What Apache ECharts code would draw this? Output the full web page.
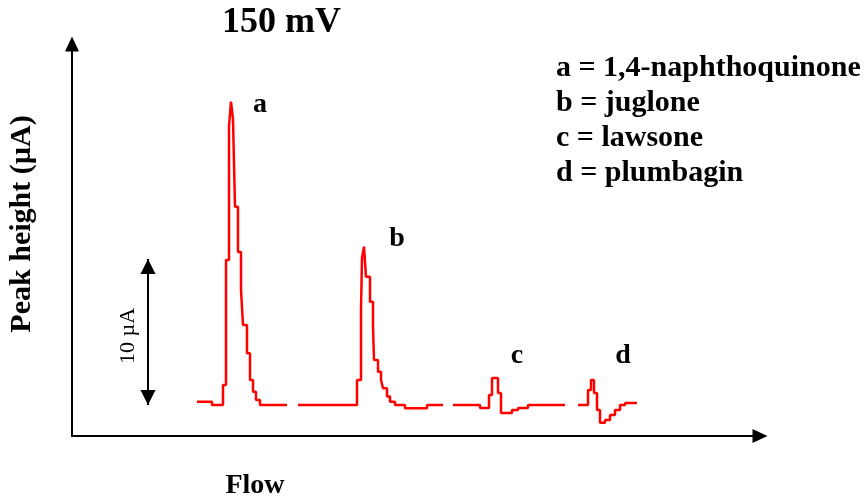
<!DOCTYPE html>
<html>
<head>
<meta charset="utf-8">
<title>150 mV</title>
<script src="https://cdn.jsdelivr.net/npm/echarts@6/dist/echarts.min.js"></script>
<style>
  html, body { margin: 0; padding: 0; background: #fff; }
  #main { width: 866px; height: 497px; }
</style>
</head>
<body>
<div id="main"></div>
<script>
// flow trace, x = time (a.u.), y = current (µA)
// each point holds its value until the next one (step trace)
var traceA = [[125, 2.35], [140, 2.12], [151, 3.49], [154, 12.05], [157, 21.2], [159, 22.9], [161, 21.7],
  [163, 15.7], [166, 12.6], [169, 10.0], [171, 7.6], [175, 5.66], [178, 3.84], [181, 3.03], [184, 2.47],
  [188, 2.12], [215, 2.12]];
var traceB = [[226, 2.12], [285, 3.84], [289, 8.63], [290, 12.2], [292, 12.97], [294, 10.9], [298, 9.2],
  [301, 7.5], [302, 5.2], [306, 4.4], [309, 3.84], [311, 3.27], [315, 2.7], [318, 2.35], [323, 2.12],
  [333, 1.9], [355, 2.12], [371, 2.12]];
var traceC = [[381, 2.12], [408, 1.92], [417, 2.81], [420, 3.97], [426, 2.95], [429, 1.58], [440, 1.78],
  [446, 1.92], [456, 2.12], [493, 2.12]];
var traceD = [[506, 2.12], [516, 3.15], [519, 3.84], [522, 2.95], [525, 1.78], [528, 0.9], [533, 1.1],
  [538, 1.44], [543, 1.78], [548, 2.12], [553, 2.26], [565, 2.26]];

var peakNames = ['a', 'b', 'c', 'd'];
var peakLabelPos = [[188, 22.7], [325, 13.5], [445, 5.5], [551, 5.5]];
var compounds = ['a = 1,4-naphthoquinone', 'b = juglone', 'c = lawsone', 'd = plumbagin'];

// 10 µA scale bar
var scaleX = 76;
var scaleFrom = 2.12;
var scaleSpan = 10;

var serif = 'Liberation Serif';
var chart = echarts.init(document.getElementById('main'), null, { renderer: 'canvas' });

function traceSeries(name, data) {
  return {
    name: name,
    type: 'line',
    step: 'end',
    data: data,
    showSymbol: false,
    silent: true,
    animation: false,
    lineStyle: { color: '#ff0000', width: 2.5 }
  };
}

var legendText = [];
compounds.forEach(function (t, i) {
  legendText.push({
    type: 'text',
    left: 556,
    top: 53 + i * 35,
    style: { text: t, font: 'bold 30px ' + serif, fill: '#000' }
  });
});

var option = {
  backgroundColor: '#fff',
  animation: false,
  title: {
    text: '150 mV',
    left: 222,
    top: 5,
    padding: 0,
    textStyle: { fontFamily: serif, fontSize: 36, fontWeight: 'bold', color: '#000' }
  },
  grid: { left: 72, right: 106, top: 44, bottom: 61, containLabel: false },
  xAxis: {
    type: 'value',
    min: 0,
    max: 688,
    axisLine: { show: true, symbol: ['none', 'triangle'], symbolSize: [14, 15],
      lineStyle: { color: '#000', width: 2 } },
    axisTick: { show: false },
    axisLabel: { show: false },
    splitLine: { show: false }
  },
  yAxis: {
    type: 'value',
    min: 0,
    max: 26.85,
    axisLine: { show: true, symbol: ['none', 'triangle'], symbolSize: [14, 15],
      lineStyle: { color: '#000', width: 2 } },
    axisTick: { show: false },
    axisLabel: { show: false },
    splitLine: { show: false }
  },
  series: [
    traceSeries('a', traceA),
    traceSeries('b', traceB),
    traceSeries('c', traceC),
    traceSeries('d', traceD),
    {
      name: 'peaks',
      type: 'scatter',
      symbolSize: 0,
      silent: true,
      itemStyle: { opacity: 1 },
      data: peakNames.map(function (n, i) { return { name: n, value: peakLabelPos[i] }; }),
      label: {
        show: true,
        position: 'inside',
        formatter: '{b}',
        fontFamily: serif,
        fontSize: 28,
        fontWeight: 'bold',
        color: '#000'
      }
    },
    {
      name: 'scale',
      type: 'line',
      data: [],
      silent: true,
      markLine: {
        silent: true,
        symbol: ['triangle', 'triangle'],
        symbolSize: 15,
        symbolOffset: [[0, 7.5], [0, 7.5]],
        label: { show: false },
        lineStyle: { color: '#000', width: 2, type: 'solid' },
        data: [[{ coord: [scaleX, scaleFrom] }, { coord: [scaleX, scaleFrom + scaleSpan] }]]
      }
    }
  ],
  graphic: legendText.concat([
    {
      type: 'text',
      x: 22,
      y: 224,
      rotation: Math.PI / 2,
      style: { text: 'Peak height (µA)', font: 'bold 30px ' + serif, fill: '#000',
        align: 'center', verticalAlign: 'middle' }
    },
    {
      type: 'text',
      x: 128,
      y: 336,
      rotation: Math.PI / 2,
      style: { text: '10 µA', font: '22px ' + serif, fill: '#000',
        align: 'center', verticalAlign: 'middle' }
    },
    {
      type: 'text',
      x: 255,
      y: 486,
      style: { text: 'Flow', font: 'bold 28px ' + serif, fill: '#000',
        align: 'center', verticalAlign: 'middle' }
    }
  ])
};

chart.setOption(option);
</script>
</body>
</html>
